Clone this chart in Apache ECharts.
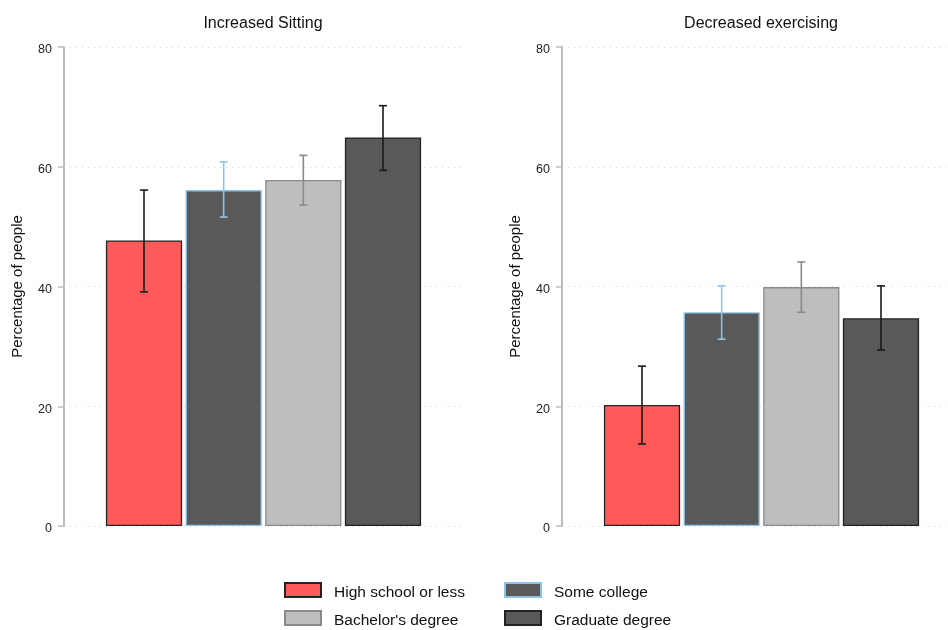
<!DOCTYPE html>
<html><head><meta charset="utf-8">
<script src="https://cdn.jsdelivr.net/npm/echarts@6/dist/echarts.min.js"></script>
<style>html,body{margin:0;padding:0;background:#fff}#c{width:948px;height:630px}</style>
</head><body><div id="c"></div>
<script>
const panels = ['Increased Sitting', 'Decreased exercising'];
const groups = ['High school or less', 'Some college', "Bachelor's degree", 'Graduate degree'];
const sittingValues = [47.7, 56.1, 57.8, 64.9];
const sittingLow = [39.1, 51.6, 53.6, 59.4];
const sittingHigh = [56.1, 60.8, 61.9, 70.2];
const exerciseValues = [20.2, 35.7, 39.9, 34.7];
const exerciseLow = [13.7, 31.2, 35.7, 29.4];
const exerciseHigh = [26.7, 40.1, 44.1, 40.1];
const yTicks = [0, 20, 40, 60, 80];

const fills = ['#ff5a5a', '#595959', '#bebebe', '#595959'];
const borders = ['#2a2222', '#8cc4e8', '#8a8a8a', '#222222'];
const errColors = ['#1a1a1a', '#8cc4e8', '#8a8a8a', '#1a1a1a'];
const FONT = "'Liberation Sans', Arial, sans-serif";
const NARROW = "'Liberation Sans Narrow', 'Liberation Sans', Arial, sans-serif";

const values = [sittingValues, exerciseValues];
const lows = [sittingLow, exerciseLow];
const highs = [sittingHigh, exerciseHigh];

const catGap = 0.21, barGapFrac = 0.045;

const series = [];
for (let p = 0; p < 2; p++) {
  for (let i = 0; i < 4; i++) {
    series.push({
      name: groups[i], type: 'bar', xAxisIndex: p, yAxisIndex: p,
      data: [values[p][i]],
      barCategoryGap: '21%', barGap: '4.5%',
      itemStyle: { color: fills[i], borderColor: borders[i], borderWidth: 1.3 },
      emphasis: { disabled: true }, silent: true
    });
  }
  series.push({
    type: 'custom', xAxisIndex: p, yAxisIndex: p, silent: true, z: 5,
    data: groups.map((g, i) => [0, lows[p][i], highs[p][i], i]),
    renderItem: function (params, api) {
      const i = api.value(3);
      const band = api.size([1, 0])[0];
      const groupW = band * (1 - catGap);
      const b = groupW / (4 + 3 * barGapFrac);
      const off = (i - 1.5) * b * (1 + barGapFrac);
      const lo = api.coord([0, api.value(1)]);
      const hi = api.coord([0, api.value(2)]);
      const x = lo[0] + off;
      const cap = 4;
      const st = { stroke: errColors[i], lineWidth: 1.6 };
      return { type: 'group', children: [
        { type: 'line', shape: { x1: x, y1: lo[1], x2: x, y2: hi[1] }, style: st },
        { type: 'line', shape: { x1: x - cap, y1: lo[1], x2: x + cap, y2: lo[1] }, style: st },
        { type: 'line', shape: { x1: x - cap, y1: hi[1], x2: x + cap, y2: hi[1] }, style: st }
      ]};
    }
  });
}

const yAxisBase = (idx) => ({
  type: 'value', gridIndex: idx, min: yTicks[0], max: yTicks[yTicks.length - 1], interval: 20,
  name: 'Percentage of people', nameLocation: 'middle', nameGap: 39,
  nameTextStyle: { fontFamily: FONT, fontSize: 15, color: '#111' },
  axisLine: { show: true, lineStyle: { color: '#bdbdbd', width: 2 } },
  axisTick: { show: true, length: 6, lineStyle: { color: '#bdbdbd', width: 1.5 } },
  axisLabel: { margin: 12, formatter: '{a|{value}}',
    rich: { a: { fontFamily: NARROW, fontSize: 12.5, color: '#222', padding: [6, 0, 0, 0] } } },
  splitLine: { show: true, lineStyle: { color: '#d6d6d6', type: [1, 5], width: 1 } }
});
const xAxisBase = (idx) => ({
  type: 'category', gridIndex: idx, data: [''],
  axisLine: { show: false }, axisTick: { show: false }, axisLabel: { show: false }
});

const legendItem = (name, left, top) => ({
  data: [name], left: left, top: top, itemWidth: 36, itemHeight: 14, icon: 'rect',
  selectedMode: false, padding: 0, formatter: '{a|{name}}',
  textStyle: { rich: { a: { fontFamily: FONT, fontSize: 15.5, color: '#111', padding: [6, 0, 0, 8] } } }
});

const titleStyle = { fontFamily: FONT, fontSize: 16, fontWeight: 'normal', color: '#111' };
const option = {
  animation: false,
  backgroundColor: '#fff',
  title: [
    { text: panels[0], left: 263, top: 16, padding: 0, textAlign: 'center', textStyle: titleStyle },
    { text: panels[1], left: 761, top: 16, padding: 0, textAlign: 'center', textStyle: titleStyle }
  ],
  grid: [
    { left: 64, top: 47, width: 399, height: 479, outerBoundsMode: 'none' },
    { left: 562, top: 47, width: 399, height: 479, outerBoundsMode: 'none' }
  ],
  xAxis: [xAxisBase(0), xAxisBase(1)],
  yAxis: [yAxisBase(0), yAxisBase(1)],
  legend: [
    legendItem(groups[0], 284, 582),
    legendItem(groups[1], 504, 582),
    legendItem(groups[2], 284, 610),
    legendItem(groups[3], 504, 610)
  ],
  series: series
};
const chart = echarts.init(document.getElementById('c'), null, { renderer: 'canvas' });
chart.setOption(option);
</script></body></html>
